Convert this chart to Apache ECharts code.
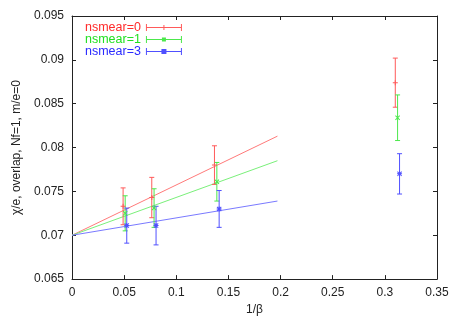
<!DOCTYPE html>
<html>
<head>
<meta charset="utf-8">
<script src="https://cdn.jsdelivr.net/npm/echarts@6/dist/echarts.min.js"></script>
<style>html,body{margin:0;padding:0;background:#fff}#c{width:458px;height:321px}</style>
</head>
<body>
<div id="c"></div>
<script>
// ---- data ----
const seriesNames = ['nsmear=0', 'nsmear=1', 'nsmear=3'];
const xRed   = [0.0490, 0.0765, 0.1366, 0.3100];
const yRed   = [0.0733, 0.0743, 0.0780, 0.0874];
const eRed   = [0.0021, 0.0023, 0.0022, 0.0028];
const xGreen = [0.0510, 0.0787, 0.1389, 0.3122];
const yGreen = [0.0725, 0.0731, 0.0761, 0.0834];
const eGreen = [0.0020, 0.0022, 0.0022, 0.0026];
const xBlue  = [0.0525, 0.0806, 0.1411, 0.3141];
const yBlue  = [0.0711, 0.0711, 0.0730, 0.0770];
const eBlue  = [0.0020, 0.0022, 0.0021, 0.0023];
// fit lines: endpoints (x, y)
const fitX     = [0, 0.197];
const fitRed   = [0.0700, 0.0813];
const fitGreen = [0.0700, 0.0785];
const fitBlue  = [0.0700, 0.0739];
const xTicks = [0, 0.05, 0.1, 0.15, 0.2, 0.25, 0.3, 0.35];
const yTicks = [0.065, 0.07, 0.075, 0.08, 0.085, 0.09, 0.095];

const markColors = ['#ff5a5a', '#4ce84c', '#5050ff'];
const lineColors = ['#ff7a7a', '#7af07a', '#7a7aff'];
const textColors = ['#ff2a2a', '#22e022', '#2a2aff'];
const FONT = '"Liberation Sans", Arial, sans-serif';

const symPlus = 'path://M2,0h1v5h-1Z M0,2h5v1h-5Z';
const symCross = 'path://M0,0.7L0.7,0L5,4.3L4.3,5Z M4.3,0L5,0.7L0.7,5L0,4.3Z';
const symStar = 'path://M2,0h1v5h-1Z M0,2h5v1h-5Z M0,0.7L0.7,0L5,4.3L4.3,5Z M4.3,0L5,0.7L0.7,5L0,4.3Z';
const symbols = [symPlus, symCross, symStar];

const legBase = 'M0,0h1v7h-1Z M35,0h1v7h-1Z M0,3h36v1h-36Z';
const legIcons = [
  'path://' + legBase + ' M17.5,1h1v5h-1Z',
  'path://' + legBase + ' M16,1.5h4v4h-4Z',
  'path://' + legBase + ' M15.5,1h5v5h-5Z'
];

function pts(xs, ys, es) { return xs.map((x, i) => [x, ys[i], es[i]]); }
const groups = [pts(xRed, yRed, eRed), pts(xGreen, yGreen, eGreen), pts(xBlue, yBlue, eBlue)];
const fits = [fitRed, fitGreen, fitBlue];

function errRender(color) {
  return function (params, api) {
    const x = api.value(0), y = api.value(1), e = api.value(2);
    const t = api.coord([x, y + e]);
    const b = api.coord([x, y - e]);
    const c = 2.5;
    const st = { stroke: color, lineWidth: 1, fill: null };
    return { type: 'group', children: [
      { type: 'line', shape: { x1: t[0], y1: t[1], x2: b[0], y2: b[1] }, style: st },
      { type: 'line', shape: { x1: t[0] - c, y1: t[1], x2: t[0] + c, y2: t[1] }, style: st },
      { type: 'line', shape: { x1: b[0] - c, y1: b[1], x2: b[0] + c, y2: b[1] }, style: st }
    ]};
  };
}

const series = [];
fits.forEach((f, i) => {
  series.push({
    name: 'fit' + i, type: 'line', silent: true, symbol: 'none',
    data: fitX.map((x, k) => [x, f[k]]),
    lineStyle: { color: lineColors[i], width: 1 }, z: 1
  });
});
groups.forEach((g, i) => {
  series.push({
    name: seriesNames[i], type: 'custom', data: g,
    encode: { x: 0, y: 1 },
    itemStyle: { color: markColors[i] },
    renderItem: errRender(markColors[i]), z: 2
  });
  series.push({
    name: seriesNames[i] + '_m', type: 'scatter', data: g.map(p => [p[0], p[1]]),
    symbol: symbols[i], symbolSize: 5,
    itemStyle: { color: markColors[i], opacity: 1 }, z: 3
  });
});

const fmt = v => String(parseFloat(Number(v).toFixed(4)));

const chart = echarts.init(document.getElementById('c'), null, { renderer: 'canvas' });
chart.setOption({
  animation: false,
  backgroundColor: '#fff',
  textStyle: { fontFamily: FONT },
  grid: { left: 72, right: 21, top: 16, bottom: 38, containLabel: false },
  legend: {
    left: 85, top: 21, orient: 'vertical', align: 'right',
    itemWidth: 36, itemHeight: 7, itemGap: -1, padding: 0,
    selectedMode: false,
    data: seriesNames.map((n, i) => ({
      name: n, icon: legIcons[i],
      itemStyle: { color: markColors[i] },
      textStyle: { color: textColors[i], fontSize: 12.5, fontFamily: FONT, lineHeight: 12 }
    }))
  },
  xAxis: [{
    type: 'value', min: xTicks[0], max: xTicks[xTicks.length - 1], interval: 0.05,
    name: '1/β', nameLocation: 'middle', nameGap: 18,
    nameTextStyle: { color: '#222', fontSize: 12, fontFamily: FONT },
    axisLine: { show: true, onZero: false, lineStyle: { color: '#222', width: 1 } },
    axisTick: { show: true, inside: true, length: 4, lineStyle: { color: '#222' } },
    axisLabel: { color: '#222', fontSize: 12, margin: 8, formatter: fmt, fontFamily: FONT },
    splitLine: { show: false }
  }, {
    type: 'value', position: 'top', min: xTicks[0], max: xTicks[xTicks.length - 1], interval: 0.05,
    axisLine: { show: true, onZero: false, lineStyle: { color: '#222', width: 1 } },
    axisTick: { show: true, inside: true, length: 4, lineStyle: { color: '#222' } },
    axisLabel: { show: false }, splitLine: { show: false }
  }],
  yAxis: [{
    type: 'value', min: yTicks[0], max: yTicks[yTicks.length - 1], interval: 0.005,
    name: 'χ/e, overlap, Nf=1, m/e=0', nameLocation: 'middle', nameGap: 47, nameRotate: 90,
    nameTextStyle: { color: '#222', fontSize: 12, fontFamily: FONT },
    axisLine: { show: true, onZero: false, lineStyle: { color: '#222', width: 1 } },
    axisTick: { show: true, inside: true, length: 4, lineStyle: { color: '#222' } },
    axisLabel: { color: '#222', fontSize: 12, margin: 8, formatter: fmt, fontFamily: FONT },
    splitLine: { show: false }
  }, {
    type: 'value', position: 'right', min: yTicks[0], max: yTicks[yTicks.length - 1], interval: 0.005,
    axisLine: { show: true, onZero: false, lineStyle: { color: '#222', width: 1 } },
    axisTick: { show: true, inside: true, length: 4, lineStyle: { color: '#222' } },
    axisLabel: { show: false }, splitLine: { show: false }
  }],
  series: series
});
</script>
</body>
</html>
